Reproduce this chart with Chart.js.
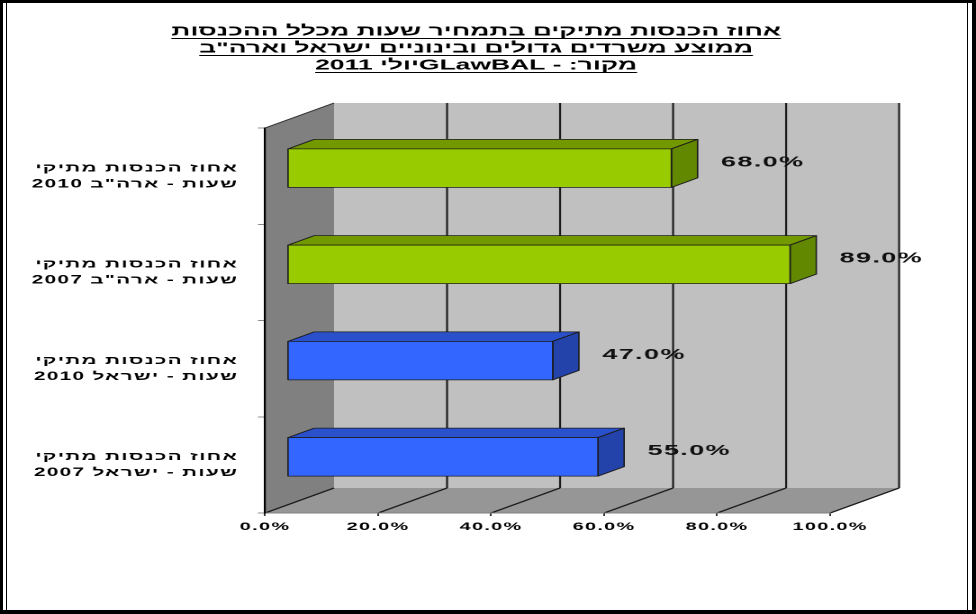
<!DOCTYPE html>
<html>
<head>
<meta charset="utf-8">
<script src="https://cdn.jsdelivr.net/npm/chart.js@4/dist/chart.umd.min.js"></script>
<style>
html, body { margin: 0; padding: 0; background: #fff; }
#wrap { position: relative; width: 976px; height: 614px; overflow: hidden; }
#c { position: absolute; left: 0; top: 0; }
#frame { position: absolute; left: 0; top: 0; width: 976px; height: 614px; box-sizing: border-box;
  border-top: 3px solid #000; border-left: 3px solid #000; border-right: 4px solid #000; border-bottom: 4px solid #000; pointer-events: none; }
#inner { position: absolute; left: 6px; top: 3px; width: 962px; height: 607px; box-sizing: border-box;
  border-left: 1px solid #000; border-right: 1px solid #000; pointer-events: none; }
</style>
</head>
<body>
<div id="wrap">
  <canvas id="c" width="542" height="614" dir="rtl" style="width:976px;height:614px"></canvas>
  <div id="frame"></div>
  <div id="inner"></div>
</div>
<script>
const titleLines = [
  'אחוז הכנסות מתיקים בתמחיר שעות מכלל ההכנסות',
  'ממוצע משרדים גדולים ובינוניים ישראל וארה"ב',
  'מקור: - GLawBALיולי 2011'
];
const categories = [
  ['אחוז הכנסות מתיקי', 'שעות - ארה"ב 2010'],
  ['אחוז הכנסות מתיקי', 'שעות - ארה"ב 2007'],
  ['אחוז הכנסות מתיקי', 'שעות - ישראל 2010'],
  ['אחוז הכנסות מתיקי', 'שעות - ישראל 2007']
];
const shares = [68, 89, 47, 55];
const xTicks = [0, 20, 40, 60, 80, 100];

const frontColors = ['#99cc00', '#99cc00', '#3366ff', '#3366ff'];
const topColors = ['#739900', '#739900', '#2b50cc', '#2b50cc'];
const sideColors = ['#628800', '#628800', '#2343aa', '#2343aa'];

const FONT = '"Liberation Sans", Arial, sans-serif';
// depth of the 3d box (canvas units; canvas is stretched 1.8x wide by css)
const DX = 38.3, DY = -25;
const F1 = 0.32, F2 = 0.70;

function poly(ctx, pts, fill, stroke) {
  ctx.beginPath();
  ctx.moveTo(pts[0][0], pts[0][1]);
  for (let i = 1; i < pts.length; i++) ctx.lineTo(pts[i][0], pts[i][1]);
  ctx.closePath();
  ctx.fillStyle = fill;
  ctx.fill();
  if (stroke) { ctx.strokeStyle = stroke; ctx.stroke(); }
}
function line(ctx, x1, y1, x2, y2) {
  ctx.beginPath();
  ctx.moveTo(x1, y1);
  ctx.lineTo(x2, y2);
  ctx.stroke();
}

const box3d = {
  id: 'box3d',
  beforeDraw(chart) {
    const { ctx, chartArea: a, scales: { x } } = chart;
    const L = a.left, R = a.right, T = a.top, B = a.bottom;
    // wider letters for every axis label, like the original
    ctx.letterSpacing = '0.75px';
    ctx.save();
    poly(ctx, [[L, T], [L + DX, T + DY], [L + DX, B + DY], [L, B]], '#808080');
    poly(ctx, [[L + DX, T + DY], [R + DX, T + DY], [R + DX, B + DY], [L + DX, B + DY]], '#c0c0c0');
    poly(ctx, [[L, B], [R, B], [R + DX, B + DY], [L + DX, B + DY]], '#969696');
    ctx.strokeStyle = '#1a1a1a';
    ctx.lineWidth = 1.1;
    x.ticks.forEach(t => {
      const px = x.getPixelForValue(t.value);
      line(ctx, px, B, px + DX, B + DY);
      if (t.value > 0) line(ctx, px + DX, B + DY, px + DX, T + DY);
    });
    ctx.lineWidth = 1;
    ctx.strokeStyle = '#333';
    line(ctx, L, T, L + DX, T + DY);
    ctx.restore();
  },
  afterDatasetsDraw(chart) {
    const { ctx } = chart;
    const meta = chart.getDatasetMeta(0);
    const fx = F1 * DX, fy = F1 * DY, bx = (F2 - F1) * DX, by = (F2 - F1) * DY;
    ctx.save();
    ctx.lineWidth = 0.8;
    ctx.lineJoin = 'round';
    meta.data.forEach((bar, i) => {
      const p = bar.getProps(['x', 'y', 'base', 'height'], true);
      const xl = p.base + fx, xr = p.x + fx;
      const yt = p.y - p.height / 2 + fy, yb = p.y + p.height / 2 + fy;
      poly(ctx, [[xl, yt], [xl + bx, yt + by], [xr + bx, yt + by], [xr, yt]], topColors[i], '#1c1c1c');
      poly(ctx, [[xr, yt], [xr + bx, yt + by], [xr + bx, yb + by], [xr, yb]], sideColors[i], '#1c1c1c');
      poly(ctx, [[xl, yt], [xr, yt], [xr, yb], [xl, yb]], frontColors[i], '#1c1c1c');
      ctx.fillStyle = '#111';
      ctx.font = 'bold 15px ' + FONT;
      ctx.textAlign = 'left';
      ctx.textBaseline = 'middle';
      ctx.fillText(shares[i].toFixed(1) + '%', xr + bx + 13, p.y - 14);
    });
    ctx.restore();
  },
  afterDraw(chart) {
    // chart title, centred like the original and underlined
    const ctx = chart.ctx;
    ctx.save();
    ctx.letterSpacing = '0px';
    ctx.font = 'bold 14.7px ' + FONT;
    ctx.fillStyle = '#000';
    ctx.strokeStyle = '#000';
    ctx.lineWidth = 1;
    ctx.textAlign = 'center';
    ctx.textBaseline = 'middle';
    const cx = 264.4;
    titleLines.forEach((s, i) => {
      const y = 31.5 + 17 * i;
      ctx.fillText(s, cx, y);
      const w = ctx.measureText(s).width;
      line(ctx, cx - w / 2, y + 7, cx + w / 2, y + 7);
    });
    ctx.restore();
  }
};

new Chart(document.getElementById('c'), {
  type: 'bar',
  data: {
    labels: categories,
    datasets: [{
      data: shares,
      backgroundColor: 'rgba(0,0,0,0)',
      borderWidth: 0,
      barPercentage: 0.4,
      categoryPercentage: 1
    }]
  },
  options: {
    indexAxis: 'y',
    responsive: false,
    animation: false,
    devicePixelRatio: 2,
    layout: { padding: { left: 0, right: 81, top: 128, bottom: 0 } },
    plugins: {
      legend: { display: false },
      tooltip: { enabled: false },
      title: { display: false }
    },
    scales: {
      x: {
        min: 0,
        max: 100,
        afterBuildTicks: s => { s.ticks = xTicks.map(v => ({ value: v })); },
        afterFit: s => { s.height = 101; },
        grid: { drawOnChartArea: false, drawTicks: true, tickLength: 3, color: '#333' },
        border: { color: '#808080', width: 1 },
        ticks: {
          padding: 4.5,
          color: '#000',
          font: { family: FONT, size: 11, weight: 'bold' },
          callback: v => v.toFixed(1) + '%'
        }
      },
      y: {
        afterFit: s => { s.width = 147.2; },
        grid: { drawOnChartArea: false, drawTicks: true, tickLength: 4, color: '#8c8c8c', offset: true },
        border: { color: '#000', width: 1.1 },
        ticks: {
          padding: 11,
          color: '#000',
          font: { family: FONT, size: 11.5, weight: 'bold', lineHeight: '16px' }
        }
      }
    }
  },
  plugins: [box3d]
});
</script>
</body>
</html>
